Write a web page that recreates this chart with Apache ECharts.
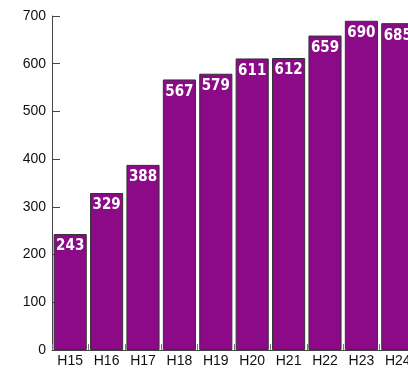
<!DOCTYPE html>
<html><head><meta charset="utf-8">
<script src="https://cdn.jsdelivr.net/npm/echarts@6/dist/echarts.min.js"></script>
<style>html,body{margin:0;padding:0;background:#fff;overflow:hidden;width:408px;height:371px}#c{width:417px;height:371px}</style>
</head><body><div id="c"></div>
<script>
const categories = ['H15','H16','H17','H18','H19','H20','H21','H22','H23','H24'];
const values = [243,329,388,567,579,611,612,659,690,685];
const chart = echarts.init(document.getElementById('c'));
chart.setOption({
  animation:false,
  grid:{left:52,right:1,top:16,bottom:21},
  xAxis:{type:'category',data:categories,
    axisLine:{show:true,lineStyle:{color:'#444',width:1}},
    axisTick:{show:true,inside:true,length:6,lineStyle:{color:'#777'}},
    axisLabel:{color:'#111',fontSize:14,fontFamily:'Liberation Sans',margin:4}},
  yAxis:{type:'value',min:0,max:700,interval:100,
    axisLine:{show:true,lineStyle:{color:'#444',width:1}},
    axisTick:{show:true,inside:true,length:8,lineStyle:{color:'#444'}},
    splitLine:{show:false},
    axisLabel:{color:'#111',fontSize:14,fontFamily:'Liberation Sans',margin:6}},
  series:[{type:'bar',data:values,barCategoryGap:'9%',
    itemStyle:{color:'#8c0a87',borderColor:'#333',borderWidth:1},
    label:{show:true,position:'insideTop',distance:5,color:'#fff',fontWeight:'bold',fontSize:15,fontFamily:'DejaVu Sans Condensed'}}]
});
</script></body></html>
